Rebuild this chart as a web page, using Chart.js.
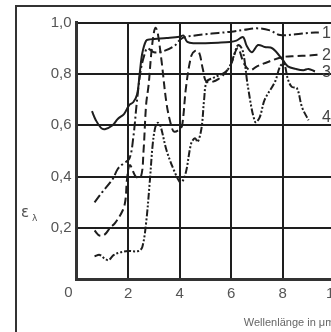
<!DOCTYPE html>
<html>
<head>
<meta charset="utf-8">
<script src="https://cdn.jsdelivr.net/npm/chart.js@4"></script>
<style>
  html, body { margin: 0; padding: 0; background: #fff; overflow: hidden; width: 331px; height: 332px; }
  #frame { position: absolute; left: 15px; top: 5px; width: 400px; height: 400px; border: 2px solid #333; box-sizing: border-box; }
  #chart { position: absolute; left: 0; top: 0; }
  #ylab { position: absolute; left: 21px; top: 203px; font-family: "DejaVu Sans", sans-serif; font-size: 15px; color: #555; }
  #ylab sub { font-size: 9px; margin-left: 3px; }
</style>
</head>
<body>
<div id="frame"></div>
<canvas id="chart" width="360" height="332"></canvas>
<div id="ylab">ε<sub>λ</sub></div>
<script>
// wavelength (µm) / emissivity readings, one pair of arrays per curve
const curve1X = [0.7, 1.0, 1.4, 1.6, 1.8, 2.05, 2.2, 2.35, 2.5, 2.65, 2.75, 3.0, 3.4, 3.8, 4.1, 4.6, 5.0, 5.5, 6.0, 6.5, 7.0, 7.5, 7.9, 8.5, 9.0, 9.4];
const curve1Y = [0.30, 0.34, 0.39, 0.43, 0.45, 0.47, 0.55, 0.70, 0.82, 0.88, 0.90, 0.885, 0.89, 0.91, 0.94, 0.95, 0.955, 0.96, 0.965, 0.972, 0.978, 0.97, 0.952, 0.955, 0.96, 0.962];

const curve2X = [0.7, 0.9, 1.1, 1.3, 1.5, 1.8, 1.9, 1.96, 2.07, 2.3, 2.5, 2.6, 2.7, 2.8, 2.9, 3.0, 3.07, 3.15, 3.3, 3.5, 3.7, 3.8, 4.0, 4.1, 4.25, 4.45, 4.6, 4.75, 4.9, 5.05, 5.5, 5.95, 6.25, 6.5, 6.73, 7.0, 7.5, 8.0, 8.5, 9.0, 9.35];
const curve2Y = [0.19, 0.17, 0.175, 0.20, 0.22, 0.27, 0.31, 0.39, 0.445, 0.40, 0.40, 0.50, 0.68, 0.76, 0.88, 0.96, 0.98, 0.96, 0.85, 0.68, 0.59, 0.575, 0.585, 0.60, 0.75, 0.87, 0.89, 0.885, 0.82, 0.77, 0.78, 0.83, 0.90, 0.84, 0.815, 0.83, 0.85, 0.866, 0.87, 0.872, 0.875];

const curve3X = [0.6, 0.75, 0.95, 1.1, 1.4, 1.6, 1.85, 2.05, 2.2, 2.35, 2.45, 2.55, 2.7, 2.85, 3.5, 4.0, 4.15, 4.3, 4.6, 5.0, 5.5, 5.95, 6.2, 6.46, 6.6, 6.8, 7.04, 7.3, 7.6, 8.0, 8.2, 8.5, 8.8, 9.0, 9.25];
const curve3Y = [0.655, 0.62, 0.59, 0.585, 0.60, 0.625, 0.645, 0.68, 0.69, 0.72, 0.80, 0.88, 0.93, 0.935, 0.94, 0.945, 0.95, 0.925, 0.92, 0.92, 0.922, 0.925, 0.93, 0.944, 0.91, 0.885, 0.913, 0.905, 0.90, 0.855, 0.83, 0.82, 0.815, 0.82, 0.81];

const curve4X = [0.7, 0.9, 1.1, 1.25, 1.45, 1.7, 2.0, 2.4, 2.55, 2.7, 2.85, 2.95, 3.05, 3.15, 3.25, 3.5, 3.8, 4.0, 4.1, 4.25, 4.45, 4.6, 4.7, 4.85, 4.95, 5.05, 5.3, 5.76, 5.95, 6.1, 6.27, 6.45, 6.65, 6.93, 7.1, 7.3, 7.7, 7.9, 8.05, 8.2, 8.35, 8.55, 8.75, 9.0];
const curve4Y = [0.09, 0.095, 0.08, 0.075, 0.095, 0.105, 0.11, 0.11, 0.125, 0.22, 0.39, 0.52, 0.59, 0.61, 0.60, 0.50, 0.42, 0.38, 0.38, 0.42, 0.53, 0.55, 0.535, 0.59, 0.70, 0.77, 0.785, 0.807, 0.83, 0.87, 0.913, 0.89, 0.75, 0.613, 0.63, 0.70, 0.77, 0.83, 0.84, 0.78, 0.75, 0.745, 0.67, 0.62];

const curveNames = ['1', '2', '3', '4'];
const xTicks = [0, 2, 4, 6, 8, 10];
const yTicks = [0.2, 0.4, 0.6, 0.8, 1.0];

function pts(xs, ys) {
    return xs.map((x, i) => ({ x: x, y: ys[i] }));
}

const ink = '#1e1e1e';
const labelFont = '"Liberation Sans", Arial, sans-serif';

// curve numbers at the right end of each line, plus the shared origin "0"
const endLabels = {
    id: 'endLabels',
    afterDatasetsDraw(chart) {
        const ctx = chart.ctx;
        const xs = chart.scales.x;
        const ys = chart.scales.y;
        ctx.save();
        ctx.font = '16px ' + labelFont;
        ctx.fillStyle = '#444';
        ctx.textAlign = 'center';
        ctx.textBaseline = 'middle';
        chart.data.datasets.forEach((ds, i) => {
            const last = ds.data[ds.data.length - 1];
            ctx.fillText(curveNames[i], xs.getPixelForValue(9.7), ys.getPixelForValue(last.y) + (i === 3 ? -3 : 1));
        });
        // origin label sits left of the axis corner
        ctx.font = '15px ' + labelFont;
        ctx.fillStyle = '#555';
        ctx.textBaseline = 'top';
        ctx.fillText('0', xs.getPixelForValue(0) - 8, ys.bottom + 6);
        ctx.restore();
    }
};

new Chart(document.getElementById('chart').getContext('2d'), {
    type: 'line',
    data: {
        datasets: [
            { data: pts(curve1X, curve1Y), borderDash: [9, 3, 2, 3] },
            { data: pts(curve2X, curve2Y), borderDash: [8, 4] },
            { data: pts(curve3X, curve3Y), borderDash: [] },
            { data: pts(curve4X, curve4Y), borderDash: [7, 2, 2, 2, 2, 2] }
        ].map(d => Object.assign(d, {
            borderColor: ink,
            borderWidth: 2,
            pointRadius: 0,
            tension: 0.35,
            fill: false
        }))
    },
    options: {
        responsive: false,
        animation: false,
        layout: { padding: { left: 16.5, top: 22.7, right: 25.7, bottom: 2.7 } },
        plugins: { legend: { display: false }, tooltip: { enabled: false } },
        scales: {
            x: {
                type: 'linear',
                min: 0,
                max: 10,
                afterBuildTicks: s => { s.ticks = xTicks.map(v => ({ value: v })); },
                afterFit: s => { s.height = 50; },
                ticks: {
                    color: '#555',
                    padding: 6,
                    font: { family: labelFont, size: 15 },
                    callback: v => v === 0 ? '' : String(v)
                },
                grid: { color: ink, lineWidth: 2, drawTicks: false },
                border: { color: '#333', width: 3 },
                title: {
                    display: true,
                    text: 'Wellenlänge in μm',
                    align: 'end',
                    color: '#666',
                    padding: 0,
                    font: { family: labelFont, size: 11 }
                }
            },
            y: {
                min: 0,
                max: 1,
                afterBuildTicks: s => { s.ticks = [0].concat(yTicks).map(v => ({ value: v })); },
                afterFit: s => { s.width = 60; },
                ticks: {
                    color: '#555',
                    padding: 5,
                    font: { family: labelFont, size: 15 },
                    callback: v => v === 0 ? '' : v.toFixed(1).replace('.', ',')
                },
                grid: { color: ink, lineWidth: 2, drawTicks: false },
                border: { color: '#333', width: 3 }
            }
        }
    },
    plugins: [endLabels]
});
</script>
</body>
</html>
